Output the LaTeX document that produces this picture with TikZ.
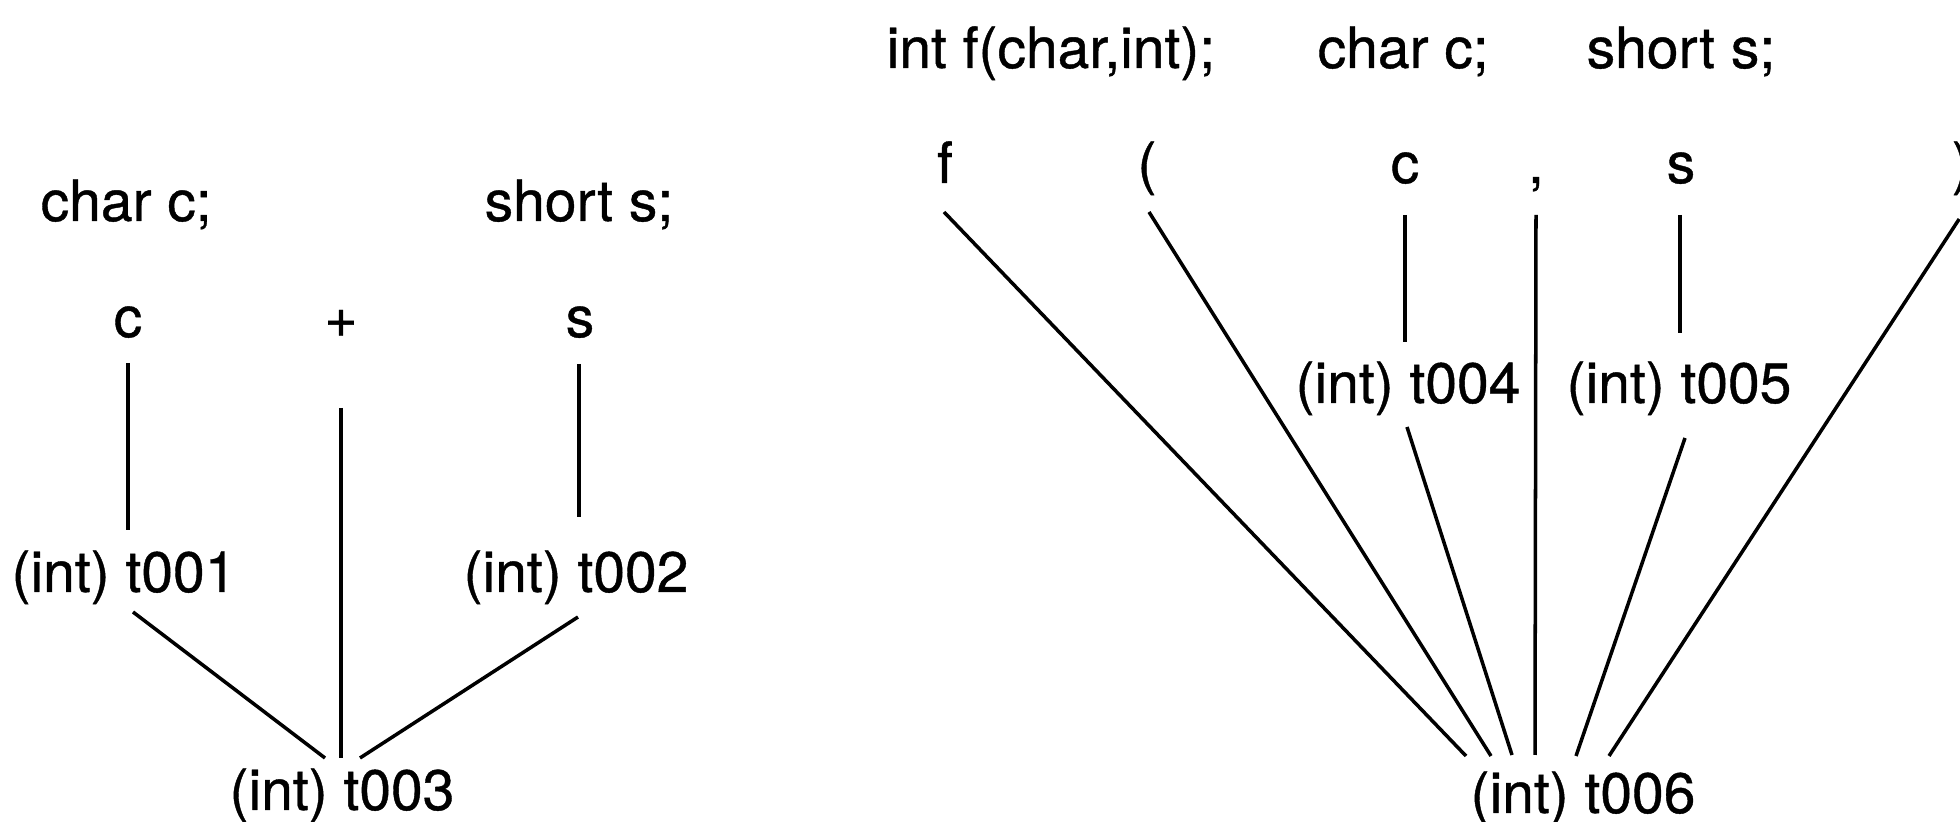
\documentclass[tikz,border=0pt]{standalone}
\usepackage{fontspec}
\setmainfont{TeX Gyre Heros}[FakeBold=0.7]
\usetikzlibrary{calc}
\begin{document}
\begin{tikzpicture}[x=0.01cm,y=-0.01cm,
  lab/.style={inner sep=0pt,anchor=base,font=\fontsize{16.2}{19}\selectfont},
  decl/.style={lab,anchor=base west},
  edge/.style={line width=1pt}]
\useasboundingbox (0,0) rectangle (1960,822);
% ---------- left tree ----------
\node[decl] (dc1) at (40,221) {char c;};
\node[decl] (ds1) at (484,221) {short s;};
\node[lab] (c1) at (128,337) {c};
\node[lab] (p1) at (341,337) {+};
\node[lab] (s1) at (580,337) {s};
\node[lab] (t1) at (124,592) {(int) t001};
\node[lab] (t2) at (576,592) {(int) t002};
\node[lab] (t3) at (342,810) {(int) t003};
\draw[edge] ($(c1.base)+(0,26)$) -- ($(t1.base)+(4,-62)$);
\draw[edge] ($(p1.base)+(0,71)$) -- ($(t3.base)+(-1,-52)$);
\draw[edge] ($(s1.base)+(-1,27)$) -- ($(t2.base)+(3,-75)$);
\draw[edge] ($(t1.base)+(9,20)$) -- ($(t3.base)+(-17,-52)$);
\draw[edge] ($(t2.base)+(2,25)$) -- ($(t3.base)+(18,-52)$);
% ---------- right tree ----------
\node[decl] (df) at (886,68) {int f(char,int);};
\node[decl] (dc2) at (1317,68) {char c;};
\node[decl] (ds2) at (1586,68) {short s;};
\node[lab] (f) at (945,183) {f};
\node[lab] (lp) at (1147,183) {(};
\node[lab] (c2) at (1405,183) {c};
\node[lab] (cm) at (1536,183) {,};
\node[lab] (s2) at (1681,183) {s};
\node[lab,anchor=base west] (rp) at (1951,183) {)};
\node[lab] (t4) at (1408,403) {(int) t004};
\node[lab] (t5) at (1679,403) {(int) t005};
\node[lab] (t6) at (1583,813) {(int) t006};
\draw[edge] ($(f.base)+(-1,29)$) -- ($(t6.base)+(-117,-57)$);
\draw[edge] ($(lp.base)+(2,29)$) -- ($(t6.base)+(-92,-57)$);
\draw[edge] ($(c2.base)+(0,32)$) -- ($(t4.base)+(-3,-61)$);
\draw[edge] ($(t4.base)+(-1,24)$) -- ($(t6.base)+(-71,-58)$);
\draw[edge] ($(cm.base)+(0,32)$) -- ($(t6.base)+(-48,-58)$);
\draw[edge] ($(s2.base)+(-1,32)$) -- ($(t5.base)+(1,-70)$);
\draw[edge] ($(t5.base)+(6,35)$) -- ($(t6.base)+(-7,-57)$);
\draw[edge] ($(rp.base)+(-2,36)$) -- ($(t6.base)+(26,-57)$);
\end{tikzpicture}
\end{document}
